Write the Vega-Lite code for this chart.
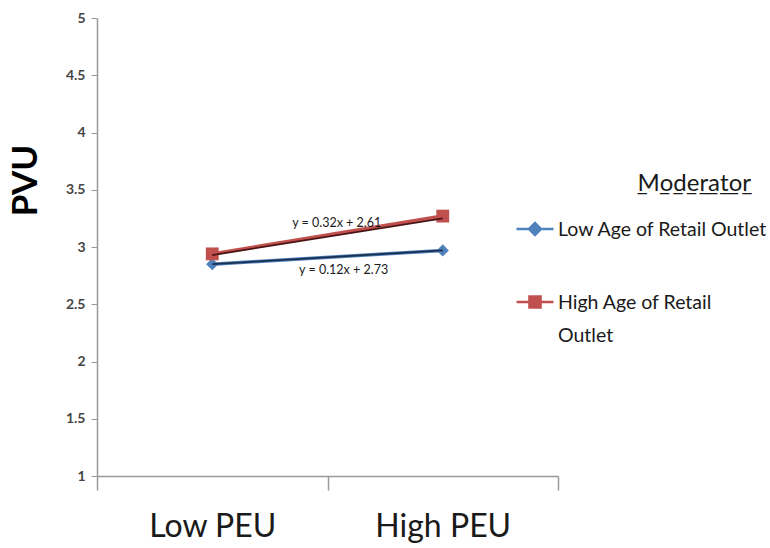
{
  "$schema": "https://vega.github.io/schema/vega-lite/v6.json",
  "width": 461,
  "height": 458,
  "autosize": "none",
  "padding": {"left": 97, "top": 18, "right": 212, "bottom": 72},
  "background": "white",
  "config": {
    "view": {"stroke": null},
    "font": "Lato"
  },
  "datasets": {
    "series": [
      {"peu": "Low PEU", "value": 2.85, "group": "Low Age of Retail Outlet"},
      {"peu": "High PEU", "value": 2.97, "group": "Low Age of Retail Outlet"},
      {"peu": "Low PEU", "value": 2.94, "group": "High Age of Retail Outlet"},
      {"peu": "High PEU", "value": 3.27, "group": "High Age of Retail Outlet"}
    ],
    "trend": [
      {"peu": "Low PEU", "value": 2.85, "group": "Low Age of Retail Outlet"},
      {"peu": "High PEU", "value": 2.97, "group": "Low Age of Retail Outlet"},
      {"peu": "Low PEU", "value": 2.93, "group": "High Age of Retail Outlet"},
      {"peu": "High PEU", "value": 3.25, "group": "High Age of Retail Outlet"}
    ],
    "eq1": [{"peu": "High PEU", "value": 3.21, "label": "y = 0.32x + 2.61"}],
    "eq2": [{"peu": "High PEU", "value": 2.8, "label": "y = 0.12x + 2.73"}]
  },
  "encoding": {
    "x": {
      "field": "peu",
      "type": "nominal",
      "sort": ["Low PEU", "High PEU"],
      "scale": {"type": "band", "domain": ["Low PEU", "High PEU"], "paddingInner": 0, "paddingOuter": 0},
      "axis": {
        "title": null,
        "labelAngle": 0,
        "labelFontSize": 32,
        "labelColor": "#1a1a1a",
        "labelPadding": 21,
        "tickBand": "extent",
        "tickSize": 14,
        "tickColor": "#999999",
        "domainColor": "#999999",
        "domainWidth": 1.5,
        "tickWidth": 1.5,
        "grid": false
      }
    },
    "y": {
      "field": "value",
      "type": "quantitative",
      "scale": {"domain": [1, 5], "nice": false, "zero": false},
      "axis": {
        "title": "PVU",
        "titleFontSize": 35,
        "titleFontWeight": "bold",
        "titleColor": "#000000",
        "titleAngle": -90,
        "titleBaseline": "alphabetic",
        "titleAlign": "center",
        "titleX": -61,
        "titleY": 162,
        "values": [1, 1.5, 2, 2.5, 3, 3.5, 4, 4.5, 5],
        "format": "~g",
        "labelFontSize": 14,
        "labelFontWeight": "bold",
        "labelColor": "#454545",
        "labelPadding": 6,
        "tickSize": 6,
        "tickColor": "#999999",
        "domainColor": "#999999",
        "domainWidth": 1.5,
        "grid": false
      }
    }
  },
  "layer": [
    {
      "data": {"name": "series"},
      "mark": {"type": "line", "strokeWidth": 3.5},
      "encoding": {
        "color": {
          "field": "group",
          "type": "nominal",
          "scale": {"domain": ["Low Age of Retail Outlet", "High Age of Retail Outlet"], "range": ["#4F81BD", "#C0504D"]},
          "legend": {
            "title": "̲M̲o̲d̲e̲r̲a̲t̲o̲r",
            "orient": "none",
            "legendX": 418,
            "legendY": 154,
            "titleFontSize": 24,
            "titleFontWeight": "normal",
            "titleColor": "#1a1a1a",
            "titleAnchor": "end",
            "titleAlign": "right",
            "titlePadding": 13,
            "labelFontSize": 19.5,
            "labelColor": "#1a1a1a",
            "labelLimit": 400,
            "labelOffset": 3,
            "labelBaseline": "alphabetic",
            "labelExpr": "datum.label == 'High Age of Retail Outlet' ? ['High Age of Retail', 'Outlet'] : datum.label",
            "symbolType": "M-1,0H1M-0.32,0L0,-0.32L0.32,0L0,0.32Z",
            "symbolSize": 1369,
            "symbolStrokeWidth": 2.5,
            "rowPadding": 42,
            "encode": {
              "title": {"update": {"dx": {"value": -17}}},
              "labels": {"update": {"dy": {"value": 7}, "lineHeight": {"value": 33}}},
              "symbols": {
                "update": {
                  "shape": {"signal": "datum.value == 'Low Age of Retail Outlet' ? 'M-1,0H1M-0.32,0L0,-0.32L0.32,0L0,0.32Z' : 'M-1,0H1M-0.3,-0.3H0.3V0.3H-0.3Z'"},
                  "fill": {"signal": "datum.value == 'Low Age of Retail Outlet' ? '#4F81BD' : '#C0504D'"},
                  "stroke": {"signal": "datum.value == 'Low Age of Retail Outlet' ? '#4F81BD' : '#C0504D'"},
                  "fillOpacity": {"value": 1},
                  "strokeOpacity": {"value": 1}
                }
              }
            }
          }
        }
      }
    },
    {
      "data": {"name": "series"},
      "transform": [{"filter": "datum.group == 'Low Age of Retail Outlet'"}],
      "mark": {"type": "point", "filled": true, "opacity": 1, "size": 150, "shape": "diamond", "color": "#4F81BD"}
    },
    {
      "data": {"name": "series"},
      "transform": [{"filter": "datum.group == 'High Age of Retail Outlet'"}],
      "mark": {"type": "point", "filled": true, "opacity": 1, "size": 165, "shape": "square", "color": "#C0504D"}
    },
    {
      "data": {"name": "trend"},
      "mark": {"type": "line", "strokeWidth": 1.8},
      "encoding": {
        "detail": {"field": "group"},
        "stroke": {
          "field": "group",
          "type": "nominal",
          "scale": {"domain": ["Low Age of Retail Outlet", "High Age of Retail Outlet"], "range": ["#1B2F4F", "#4A1414"]},
          "legend": null
        }
      }
    },
    {
      "data": {"name": "eq1"},
      "mark": {"type": "text", "fontSize": 12.5, "color": "#1a1a1a", "align": "center", "baseline": "middle"},
      "encoding": {
        "x": {"field": "peu", "type": "nominal", "bandPosition": 0.04},
        "text": {"field": "label"}
      }
    },
    {
      "data": {"name": "eq2"},
      "mark": {"type": "text", "fontSize": 12.5, "color": "#1a1a1a", "align": "center", "baseline": "middle"},
      "encoding": {
        "x": {"field": "peu", "type": "nominal", "bandPosition": 0.07},
        "text": {"field": "label"}
      }
    }
  ],
  "resolve": {"scale": {"stroke": "independent"}}
}
